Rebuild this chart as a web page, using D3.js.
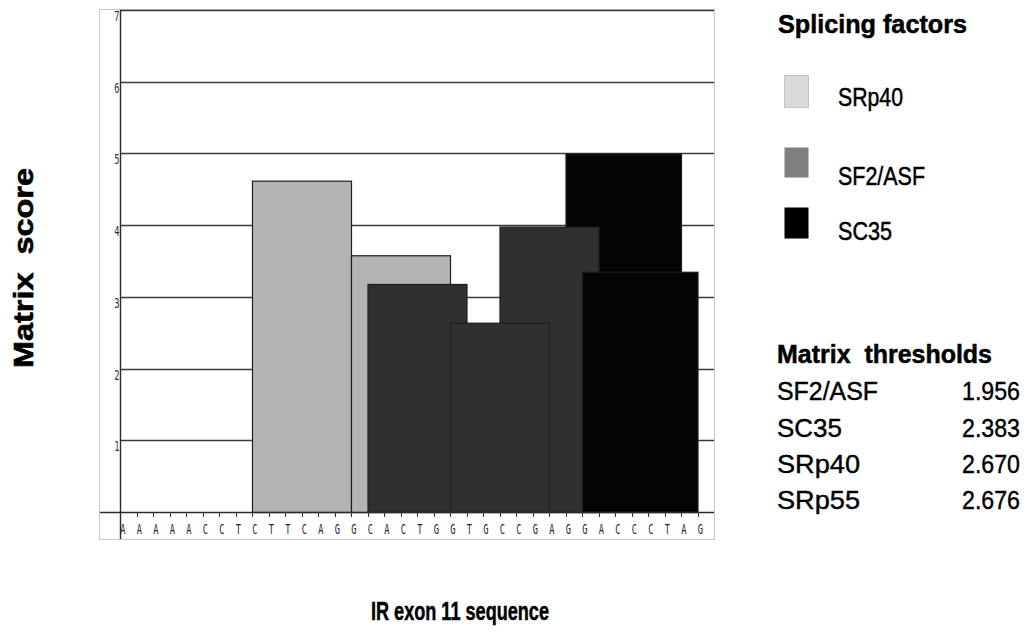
<!DOCTYPE html>
<html>
<head>
<meta charset="utf-8">
<script src="https://cdn.jsdelivr.net/npm/d3@7"></script>
<style>
  html, body { margin: 0; padding: 0; background: #fff; }
  svg { display: block; }
</style>
</head>
<body>
<svg id="chart" width="1032" height="640"></svg>
<script>
// ---- Data ----
const sequence = ["A","A","A","A","A","C","C","T","C","T","T","C","A","G","G","C","A","C","T","G","G","T","G","C","C","G","A","G","G","A","C","C","C","T","A","G"];
const siteFactors = ["SRp40","SRp40","SF2/ASF","SF2/ASF","SF2/ASF","SC35","SC35"];
const siteStarts  = [8, 14, 15, 20, 23, 27, 28];
const siteLengths = [7, 7, 7, 7, 7, 8, 8];
const siteScores  = [4.62, 3.58, 3.18, 2.64, 3.98, 5.00, 3.35];
const yTicks = [1, 2, 3, 4, 5, 6, 7];
const legendFactors = ["SRp40", "SF2/ASF", "SC35"];
const thresholdFactors = ["SF2/ASF", "SC35", "SRp40", "SRp55"];
const thresholdValues  = ["1.956", "2.383", "2.670", "2.676"];

const barFill = {"SRp40": "#b4b4b4", "SF2/ASF": "#303030", "SC35": "#040404"};
const legendFill = {"SRp40": "#d9d9d9", "SF2/ASF": "#7f7f7f", "SC35": "#000000"};

const svg = d3.select("#chart");

const x = d3.scaleLinear().domain([0, 36]).range([120, 714]);
const y = d3.scaleLinear().domain([0, 7]).range([512, 10]);

// outer light frame
svg.append("rect")
  .attr("x", 99.5).attr("y", 9.5).attr("width", 615).attr("height", 530)
  .attr("fill", "#fff").attr("stroke", "#c8c8c8").attr("stroke-width", 1);

// gridlines
svg.append("g").selectAll("line").data(yTicks).join("line")
  .attr("x1", x(0)).attr("x2", x(36))
  .attr("y1", d => Math.round(y(d)) + 0.5).attr("y2", d => Math.round(y(d)) + 0.5)
  .attr("stroke", "#3a3a3a").attr("stroke-width", 1.3);

// bars, drawn tallest first
const sites = siteScores.map((v, i) => ({f: siteFactors[i], s: siteStarts[i], l: siteLengths[i], v}))
  .sort((a, b) => b.v - a.v);
svg.append("g").selectAll("rect").data(sites).join("rect")
  .attr("x", d => x(d.s) + 0.5)
  .attr("width", d => x(d.s + d.l - 1) - x(d.s))
  .attr("y", d => y(d.v) + 0.5)
  .attr("height", d => y(0) - y(d.v))
  .attr("fill", d => barFill[d.f])
  .attr("stroke", "#1e1e1e").attr("stroke-width", 1.2);

// x axis (baseline with ticks)
svg.append("line").attr("x1", 100).attr("x2", x(36))
  .attr("y1", y(0) + 0.5).attr("y2", y(0) + 0.5)
  .attr("stroke", "#2a2a2a").attr("stroke-width", 1.4);
svg.append("g").selectAll("line").data(d3.range(1, 36)).join("line")
  .attr("x1", d => Math.round(x(d)) + 0.5).attr("x2", d => Math.round(x(d)) + 0.5)
  .attr("y1", y(0)).attr("y2", y(0) + 5)
  .attr("stroke", "#333").attr("stroke-width", 1);
svg.append("g").selectAll("text").data(sequence).join("text")
  .attr("transform", (d, i) => `translate(${x(i) + 0.3},533.5) scale(0.6,1)`)
  .attr("font-family", "DejaVu Sans Mono, monospace")
  .attr("font-size", 14.5)
  .attr("fill", "#2a2a2a")
  .text(d => d);

// y axis
svg.append("line").attr("x1", 120.5).attr("x2", 120.5)
  .attr("y1", y(7)).attr("y2", 539)
  .attr("stroke", "#2a2a2a").attr("stroke-width", 1.4);
svg.append("g").selectAll("text").data(yTicks).join("text")
  .attr("transform", d => `translate(119.5,${y(d) + 11}) scale(0.65,1)`)
  .attr("text-anchor", "end")
  .attr("font-family", "DejaVu Sans Mono, monospace")
  .attr("font-size", 13.5)
  .attr("fill", "#333")
  .text(d => d);

// axis titles
svg.append("text")
  .attr("transform", "translate(33,268) rotate(-90)")
  .attr("text-anchor", "middle")
  .attr("font-family", "Liberation Sans, Arial, sans-serif")
  .attr("font-weight", "bold").attr("font-size", 27)
  .attr("stroke", "#000").attr("stroke-width", 0.6)
  .attr("textLength", 200).attr("lengthAdjust", "spacingAndGlyphs")
  .attr("xml:space", "preserve")
  .text("Matrix  score");

const font = "Liberation Sans, Arial, sans-serif";
svg.append("text")
  .attr("x", 371).attr("y", 620)
  .attr("font-family", font)
  .attr("font-weight", "bold").attr("font-size", 26)
  .attr("stroke", "#000").attr("stroke-width", 0.5)
  .attr("textLength", 178).attr("lengthAdjust", "spacingAndGlyphs")
  .text("IR exon 11 sequence");

// legend
svg.append("text").attr("x", 778).attr("y", 33)
  .attr("font-family", font).attr("font-weight", "bold").attr("font-size", 25)
  .attr("stroke", "#000").attr("stroke-width", 0.5)
  .attr("textLength", 189).attr("lengthAdjust", "spacingAndGlyphs")
  .text("Splicing factors");

const swY = [75, 147, 207], swH = [32, 30, 31];
const lblY = [106, 185, 240], lblW = [65, 87, 54];
const lg = svg.append("g");
lg.selectAll("rect").data(legendFactors).join("rect")
  .attr("x", 784.5).attr("y", (d, i) => swY[i] + 0.5)
  .attr("width", 24).attr("height", (d, i) => swH[i])
  .attr("fill", d => legendFill[d])
  .attr("stroke", (d, i) => i === 0 ? "#c4c4c4" : "none").attr("stroke-width", 1);
lg.selectAll("text").data(legendFactors).join("text")
  .attr("x", 838).attr("y", (d, i) => lblY[i])
  .attr("font-family", font).attr("font-size", 25)
  .attr("stroke", "#000").attr("stroke-width", 0.5)
  .attr("textLength", (d, i) => lblW[i]).attr("lengthAdjust", "spacingAndGlyphs")
  .attr("fill", "#000")
  .text(d => d);

// thresholds table
svg.append("text").attr("x", 777).attr("y", 363)
  .attr("font-family", font).attr("font-weight", "bold").attr("font-size", 25)
  .attr("stroke", "#000").attr("stroke-width", 0.5)
  .attr("textLength", 215).attr("lengthAdjust", "spacingAndGlyphs")
  .attr("xml:space", "preserve")
  .text("Matrix  thresholds");

const rowY = [400, 436.5, 473, 509];
const rowW = [101, 65, 83, 83];
const tg = svg.append("g");
tg.selectAll("text.name").data(thresholdFactors).join("text")
  .attr("class", "name")
  .attr("x", 777).attr("y", (d, i) => rowY[i])
  .attr("font-family", font).attr("font-size", 25.5)
  .attr("stroke", "#000").attr("stroke-width", 0.4)
  .attr("textLength", (d, i) => rowW[i]).attr("lengthAdjust", "spacingAndGlyphs")
  .text(d => d);
tg.selectAll("text.val").data(thresholdValues).join("text")
  .attr("class", "val")
  .attr("x", 962).attr("y", (d, i) => rowY[i])
  .attr("font-family", font).attr("font-size", 25.5)
  .attr("stroke", "#000").attr("stroke-width", 0.4)
  .attr("textLength", 58).attr("lengthAdjust", "spacingAndGlyphs")
  .text(d => d);
</script>
</body>
</html>
